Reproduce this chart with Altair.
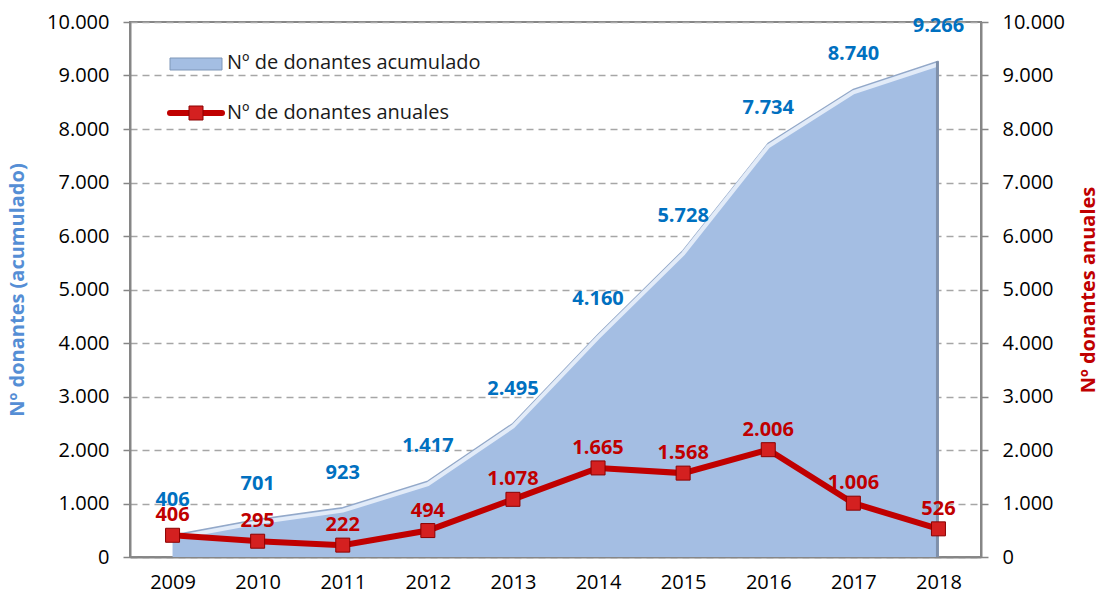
import altair as alt
import pandas as pd

years = ["2009", "2010", "2011", "2012", "2013", "2014", "2015", "2016", "2017", "2018"]
acumulado = [406, 701, 923, 1417, 2495, 4160, 5728, 7734, 8740, 9266]
anuales = [406, 295, 222, 494, 1078, 1665, 1568, 2006, 1006, 526]
tick_values = [0, 1000, 2000, 3000, 4000, 5000, 6000, 7000, 8000, 9000, 10000]

df = pd.DataFrame({"year": years, "acum": acumulado, "anual": anuales})

FONT = "Open Sans"
GRAY = "#868686"
BLUE_FILL = "#A4BEE3"
RED = "#C00000"
LBL_BLUE = "#0070C0"

label_expr = "replace(format(datum.value, ','), ',', '.')"
ysc = alt.Scale(domain=[0, 10000], nice=False, zero=True)

x = alt.X(
    "year:O",
    scale=alt.Scale(type="point", padding=0.5),
    axis=alt.Axis(title=None, labelAngle=0, ticks=False, labelPadding=15,
                  labelFontSize=20, labelColor="#000000", domainColor=GRAY,
                  domainWidth=2, labelFont=FONT),
)

left_axis = alt.Axis(
    values=tick_values, labelExpr=label_expr, grid=True, gridDash=[7, 5],
    gridColor="#A6A6A6", gridWidth=1.5, tickSize=7, tickColor=GRAY, tickWidth=1.5,
    domainColor=GRAY, domainWidth=2, labelFontSize=20, labelColor="#000000",
    labelPadding=14, title="Nº donantes (acumulado)", titleFontSize=20,
    titleFontWeight="bold", titleColor="#558ED5", titleX=-113, titleY=267.5,
    titleAngle=270, titleBaseline="middle", titleAlign="center", orient="left",
)
right_axis = alt.Axis(
    values=tick_values, labelExpr=label_expr, grid=False, tickSize=7,
    tickColor=GRAY, tickWidth=1.5, domainColor=GRAY, domainWidth=2,
    labelFontSize=20, labelColor="#000000", labelPadding=14,
    title="Nº donantes anuales", titleFontSize=20, titleFontWeight="bold",
    titleColor=RED, titleX=107, titleY=267.5, titleAngle=270,
    titleBaseline="middle", titleAlign="center", orient="right",
)

base = alt.Chart(df)

area = base.mark_area(color=BLUE_FILL, opacity=1).encode(
    x=x, y=alt.Y("acum:Q", scale=ysc, axis=left_axis)
)
edge_dark = base.mark_line(color="#93A8C8", strokeWidth=1.5).encode(
    x=x, y=alt.Y("acum:Q", scale=ysc, axis=None)
)
edge_light = base.mark_line(color="#E2EBF8", strokeWidth=4, yOffset=3).encode(
    x=x, y=alt.Y("acum:Q", scale=ysc, axis=None)
)
shadow = base.transform_filter(alt.datum.year == "2018").mark_rule(
    color="#7F90AA", strokeWidth=3, xOffset=-1
).encode(x=x, y=alt.Y("acum:Q", scale=ysc, axis=None), y2=alt.datum(0))

line = base.mark_line(color=RED, strokeWidth=6).encode(
    x=x, y=alt.Y("anual:Q", scale=ysc, axis=right_axis)
)
squares = base.mark_square(size=196, color="#D42020", stroke="#8B0000",
                           strokeWidth=1, opacity=1, filled=True).encode(
    x=x, y=alt.Y("anual:Q", scale=ysc, axis=None)
)

blue_labels = base.transform_calculate(
    lbl="replace(format(datum.acum, ','), ',', '.')"
).mark_text(color=LBL_BLUE, fontSize=20, fontWeight="bold", dy=-35,
            font=FONT, baseline="middle").encode(
    x=x, y=alt.Y("acum:Q", scale=ysc, axis=None), text="lbl:N"
)
red_labels = base.transform_calculate(
    lbl="replace(format(datum.anual, ','), ',', '.')"
).mark_text(color=RED, fontSize=20, fontWeight="bold", dy=-20,
            font=FONT, baseline="middle").encode(
    x=x, y=alt.Y("anual:Q", scale=ysc, axis=None), text="lbl:N"
)

one = alt.Data(values=[{"k": 1}])
leg_rect = alt.Chart(one).mark_rect(fill=BLUE_FILL, stroke="#7F97B8", strokeWidth=1).encode(
    x=alt.value(40), x2=alt.value(92), y=alt.value(36), y2=alt.value(48)
)
leg_rule = alt.Chart(one).mark_rule(color=RED, strokeWidth=6, strokeCap="round").encode(
    x=alt.value(40), x2=alt.value(92), y=alt.value(91)
)
leg_sq = alt.Chart(one).mark_square(size=196, color="#D42020", stroke="#8B0000",
                                     strokeWidth=1, opacity=1, filled=True).encode(
    x=alt.value(66), y=alt.value(91)
)
leg_t1 = alt.Chart(one).mark_text(align="left", baseline="middle", fontSize=20,
                                   font=FONT, color="#1A1A1A").encode(
    x=alt.value(97), y=alt.value(41), text=alt.value("Nº de donantes acumulado")
)
leg_t2 = alt.Chart(one).mark_text(align="left", baseline="middle", fontSize=20,
                                   font=FONT, color="#1A1A1A").encode(
    x=alt.value(97), y=alt.value(91), text=alt.value("Nº de donantes anuales")
)

chart = alt.layer(
    area, edge_dark, edge_light, shadow, line, squares, blue_labels, red_labels,
    leg_rect, leg_rule, leg_sq, leg_t1, leg_t2,
).resolve_scale(y="independent").properties(
    width=851, height=535,
    autosize=alt.AutoSizeParams(type="none"),
    padding={"left": 130, "top": 22, "right": 121, "bottom": 42},
).configure_view(stroke=GRAY, strokeWidth=2).configure_axis(
    labelFont=FONT, titleFont=FONT
)

chart.save("out.html", embed_options={"renderer": "svg", "actions": False})
